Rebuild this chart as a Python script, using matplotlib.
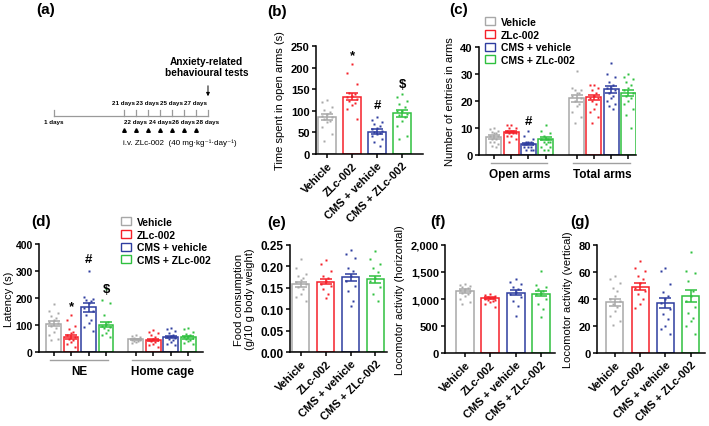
import matplotlib.pyplot as plt
from matplotlib.patches import Patch
import matplotlib.transforms as mtransforms

plt.rcParams['font.family'] = ['Liberation Sans', 'DejaVu Sans']
plt.rcParams['font.weight'] = 'bold'
plt.rcParams['font.size'] = 7

W, H = 709, 427

groups = ['Vehicle', 'ZLc-002', 'CMS + vehicle', 'CMS + ZLc-002']
colors = ['#a8a8a8', '#f52029', '#2e3d9f', '#2fc03f']

# (a) timeline
days_above = [21, 23, 25, 27]
days_below = [1, 22, 24, 26, 28]
injection_days = [21, 22, 23, 24, 25, 26, 27]

# (b) time spent in open arms
b_mean = [86, 133, 52, 94]
b_sem = [7, 9, 5, 9]
b_pts = [
    [125, 121, 108, 101, 98, 92, 88, 85, 81, 77, 73, 62, 46, 31],
    [208, 188, 162, 142, 138, 135, 131, 127, 123, 119, 113, 104, 81],
    [85, 79, 75, 69, 64, 60, 59, 54, 50, 48, 46, 41, 35, 27, 18],
    [138, 131, 123, 115, 108, 100, 100, 92, 90, 85, 77, 64, 42, 35],
]
b_marks = ['', '*', '#', '$']
b_mark_y = [0, 229, 113, 162]

# (c) entries in arms
c_open_mean = [6.7, 8.5, 4.1, 6.0]
c_open_sem = [0.7, 0.5, 0.5, 0.6]
c_total_mean = [21.0, 21.3, 24.3, 23.0]
c_total_sem = [1.3, 1.0, 1.2, 1.2]
c_open_pts = [
    [10, 9.5, 9, 8.5, 8, 8, 7, 7, 6, 6, 5, 5, 4, 3.5, 3],
    [11, 11, 10, 10, 9, 9, 9, 8, 8, 8, 7, 7, 6, 5],
    [9, 7, 6, 5, 5, 5, 4, 4, 4, 3, 3, 3, 2, 2, 2],
    [11, 9, 8, 7, 6, 6, 6, 5, 5, 5, 4, 3, 3, 2, 2],
]
c_total_pts = [
    [31, 25, 24, 24, 23, 23, 22, 21, 20, 19, 18, 16, 14, 12],
    [26, 26, 25, 24, 23, 22, 21, 21, 20, 19, 17, 16, 14, 12],
    [34, 30, 29, 27, 26, 25, 25, 24, 23, 22, 21, 20, 19, 18, 17],
    [30, 29, 28, 27, 26, 25, 24, 23, 22, 21, 20, 19, 17, 15, 10],
]
c_groups = ['Open arms', 'Total arms']

# (d) latency
d_ne_mean = [105, 56, 165, 101]
d_ne_sem = [10, 8, 15, 10]
d_home_mean = [47, 45, 56, 55]
d_home_sem = [3, 4, 5, 5]
d_ne_pts = [
    [178, 152, 144, 135, 125, 119, 110, 106, 98, 88, 75, 62, 50, 44],
    [137, 119, 98, 85, 75, 69, 62, 56, 50, 44, 37, 28, 19],
    [300, 202, 198, 194, 190, 181, 162, 152, 137, 119, 106, 94, 77],
    [232, 194, 181, 137, 112, 102, 98, 94, 88, 81, 69, 62, 56],
]
d_home_pts = [
    [62, 58, 56, 52, 50, 48, 46, 44, 42, 40, 37, 35],
    [81, 75, 69, 62, 56, 50, 46, 44, 40, 37, 31, 25, 19],
    [90, 85, 78, 70, 62, 58, 55, 52, 48, 44, 38, 31, 25],
    [90, 85, 75, 68, 62, 58, 55, 52, 48, 45, 40, 35, 30],
]
d_groups = ['NE', 'Home cage']
d_marks = ['', '*', '#', '$']
d_mark_y = [0, 170, 344, 233]

# (e) food consumption
e_mean = [0.158, 0.164, 0.175, 0.170]
e_sem = [0.006, 0.006, 0.008, 0.008]
e_pts = [
    [0.218, 0.197, 0.183, 0.178, 0.174, 0.168, 0.163, 0.159, 0.152, 0.147, 0.135, 0.128, 0.120],
    [0.214, 0.205, 0.190, 0.178, 0.173, 0.166, 0.160, 0.155, 0.147, 0.135, 0.126],
    [0.238, 0.228, 0.220, 0.197, 0.190, 0.178, 0.166, 0.155, 0.143, 0.120, 0.108],
    [0.236, 0.217, 0.205, 0.197, 0.186, 0.174, 0.166, 0.151, 0.135, 0.120],
]

# (f) horizontal activity
f_mean = [1150, 1015, 1115, 1100]
f_sem = [40, 20, 45, 50]
f_pts = [
    [1280, 1260, 1240, 1220, 1200, 1180, 1160, 1140, 1120, 1100, 1050, 1000, 950, 900],
    [1100, 1080, 1060, 1040, 1020, 1010, 1000, 990, 980, 960, 940, 900, 860],
    [1366, 1317, 1274, 1230, 1181, 1132, 1089, 1028, 966, 874, 677],
    [1520, 1255, 1230, 1194, 1150, 1120, 1089, 997, 905, 812, 658],
]

# (g) vertical activity
g_mean = [37.5, 49, 37, 42.5]
g_sem = [2.5, 2.5, 3.5, 4.5]
g_pts = [
    [57, 55, 52, 48.5, 46, 42, 40, 38.7, 36, 34, 31, 27.6, 24, 20.7],
    [68, 63, 61, 57, 55, 52, 48.5, 46, 43.6, 40, 36, 33],
    [63, 61, 51, 45, 42, 40, 37.4, 32.5, 28.8, 25, 20, 17.7, 14],
    [75, 61, 59.6, 53.5, 46, 42, 38.7, 34, 30, 26, 24, 20, 14],
]


def rect(l, t, r, b):
    return [l / W, 1 - b / H, (r - l) / W, (b - t) / H]


def style(ax, yticks, labels=None, size=8):
    for s in ['top', 'right']:
        ax.spines[s].set_visible(False)
    for s in ['left', 'bottom']:
        ax.spines[s].set_linewidth(1.1)
    ax.set_ylim(yticks[0], yticks[-1])
    ax.set_yticks(yticks)
    if labels is not None:
        ax.set_yticklabels(labels)
    ax.tick_params(direction='out', length=3, width=1.1, labelsize=size, pad=1.5)


def draw_bars(ax, xs, means, sems, pts, width):
    offs = [0, -0.2, 0.2, -0.1, 0.1]
    for x, m, s, p, c in zip(xs, means, sems, pts, colors):
        ax.bar(x, m, width, facecolor='white', edgecolor=c, linewidth=1.1, zorder=1)
        px = [x + offs[k % 5] * width / 0.7 for k in range(len(p))]
        ax.plot(px, p, 's', ms=2.1, color=c, mec='none', zorder=3, clip_on=False)
        ax.errorbar(x, m, yerr=s, color=c, capsize=4, capthick=1.1, elinewidth=1.1, zorder=4)


def rotated_xticks(ax, xs):
    ax.set_xticks(xs)
    ax.set_xticklabels(groups, rotation=45, ha='right', rotation_mode='anchor', fontsize=8)


def group_axis(ax, starts, names):
    trans = mtransforms.blended_transform_factory(ax.transData, ax.transAxes)
    for st, name in zip(starts, names):
        ax.plot([st - 0.2, st + 3.1], [-0.07, -0.07], color='#a0a0a0', lw=1.0,
                transform=trans, clip_on=False)
        ax.text(st + 1.5, -0.18, name, transform=trans, ha='center', va='center', fontsize=8.5)


fig = plt.figure(figsize=(W / 100, H / 100), dpi=100)

# ---- (a) timeline
axa = fig.add_axes(rect(30, 0, 250, 160))
axa.set_xlim(13.17, 31.5)
axa.set_ylim(160, 0)
axa.axis('off')


def day_pos(d):
    return 15.17 if d == 1 else d


axa.plot([day_pos(1), 28], [117, 117], color='#9a9a9a', lw=0.9)
for d in [1] + list(range(21, 29)):
    axa.plot([day_pos(d)] * 2, [111, 117], color='#9a9a9a', lw=0.9)
for d in days_above:
    axa.text(day_pos(d), 104, f'{d} days', ha='center', va='center', fontsize=4.5)
for d in days_below:
    axa.text(day_pos(d), 123, f'{d} days', ha='center', va='center', fontsize=4.5)
axa.plot(injection_days, [131] * len(injection_days), '^', color='black', ms=2.6)
axa.text(20.9, 143, 'i.v. ZLc-002  (40 mg·kg⁻¹·day⁻¹)', ha='left', va='center',
         fontsize=5.8, fontweight='normal')
axa.text(27.9, 67.5, 'Anxiety-related\nbehavioural tests', ha='center', va='center',
         fontsize=7.3, linespacing=1.15)
axa.annotate('', xy=(28, 100), xytext=(28, 84),
             arrowprops=dict(arrowstyle='-|>', color='black', lw=0.7, mutation_scale=5))

# ---- (b)
axb = fig.add_axes(rect(316, 47, 423, 155))
xb = [0, 1, 2, 3]
draw_bars(axb, xb, b_mean, b_sem, b_pts, 0.72)
style(axb, [0, 50, 100, 150, 200, 250])
axb.set_xlim(-0.44, 3.84)
rotated_xticks(axb, xb)
axb.set_ylabel('Time spent in open arms (s)', fontsize=8)
for x, t, y in zip(xb, b_marks, b_mark_y):
    if t:
        axb.text(x, y, t, ha='center', va='center', fontsize=9.5, color='black')

# ---- (c)
axc = fig.add_axes(rect(479, 48, 636, 156))
xc_open = [0, 1, 2, 3]
xc_total = [4.8, 5.8, 6.8, 7.8]
draw_bars(axc, xc_open, c_open_mean, c_open_sem, c_open_pts, 0.87)
draw_bars(axc, xc_total, c_total_mean, c_total_sem, c_total_pts, 0.87)
style(axc, [0, 10, 20, 30, 40])
axc.set_xlim(-0.87, 8.24)
axc.set_xticks(xc_open + xc_total)
axc.set_xticklabels([])
axc.set_ylabel('Number of entries in arms', fontsize=8)
group_axis(axc, [xc_open[0], xc_total[0]], c_groups)
axc.text(2, 12.6, '#', ha='center', va='center', fontsize=9.5)

# ---- (d)
axd = fig.add_axes(rect(39, 245, 203, 353))
xd_ne = [0, 1, 2, 3]
xd_home = [4.7, 5.7, 6.7, 7.7]
draw_bars(axd, xd_ne, d_ne_mean, d_ne_sem, d_ne_pts, 0.85)
draw_bars(axd, xd_home, d_home_mean, d_home_sem, d_home_pts, 0.85)
style(axd, [0, 100, 200, 300, 400], size=7.5)
axd.set_xlim(-0.83, 8.54)
axd.set_xticks(xd_ne + xd_home)
axd.set_xticklabels([])
axd.set_ylabel('Latency (s)', fontsize=8, labelpad=1)
group_axis(axd, [xd_ne[0], xd_home[0]], d_groups)
for x, t, y in zip(xd_ne, d_marks, d_mark_y):
    if t:
        axd.text(x, y, t, ha='center', va='center', fontsize=9.5)

# ---- (e)
axe = fig.add_axes(rect(290, 246, 387, 353))
xe = [0, 1, 2, 3]
draw_bars(axe, xe, e_mean, e_sem, e_pts, 0.69)
style(axe, [0, 0.05, 0.10, 0.15, 0.20, 0.25],
      ['0.00', '0.05', '0.10', '0.15', '0.20', '0.25'], size=8.5)
axe.set_xlim(-0.44, 3.47)
rotated_xticks(axe, xe)
axe.set_ylabel('Food consumption\n(g/10 g body weight)', fontsize=8, linespacing=1.1)

# ---- (f)
axf = fig.add_axes(rect(445, 246, 555, 354))
xf = [0, 1, 2, 3]
draw_bars(axf, xf, f_mean, f_sem, f_pts, 0.71)
style(axf, [0, 500, 1000, 1500, 2000], ['0', '500', '1,000', '1,500', '2,000'])
axf.set_xlim(-0.79, 3.56)
rotated_xticks(axf, xf)
axf.set_ylabel('Locomotor activity (horizontal)', fontsize=8)

# ---- (g)
axg = fig.add_axes(rect(597, 246, 705, 354))
xg = [0, 1, 2, 3]
draw_bars(axg, xg, g_mean, g_sem, g_pts, 0.67)
style(axg, [0, 20, 40, 60, 80])
axg.set_xlim(-0.71, 3.57)
rotated_xticks(axg, xg)
axg.set_ylabel('Locomotor activity (vertical)', fontsize=8)

# legends
handles = [Patch(facecolor='white', edgecolor=c, linewidth=1.0) for c in colors]
for lx, ly in [(485, 18), (121, 218)]:
    fig.legend(handles, groups, loc='upper left', bbox_to_anchor=(lx / W, 1 - ly / H),
               frameon=False, fontsize=7.5, borderpad=0, handlelength=1.0, handleheight=0.8,
               handletextpad=0.5, labelspacing=0.25, borderaxespad=0)

# panel letters
for lab, x, y in [('(a)', 46, 10), ('(b)', 277, 12), ('(c)', 459, 10), ('(d)', 41, 222),
                  ('(e)', 277, 223), ('(f)', 438, 222), ('(g)', 580, 222)]:
    fig.text(x / W, 1 - y / H, lab, ha='center', va='center', fontsize=11)

fig.savefig('out.png', dpi=100)
